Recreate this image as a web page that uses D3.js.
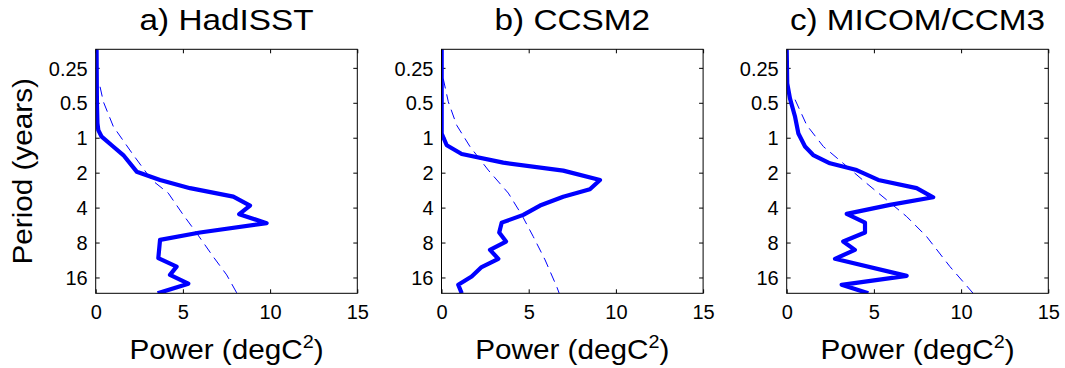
<!DOCTYPE html>
<meta charset="utf-8">
<style>
body { margin: 0; background: #fff; }
svg text { font-family: "Liberation Sans", Arial, sans-serif; fill: #000; }
.frame { fill: none; stroke: #000; stroke-width: 1; }
.spec { fill: none; stroke: #0000ff; stroke-width: 4.2; stroke-linejoin: round; }
.red { fill: none; stroke: #0000ff; stroke-width: 1; stroke-dasharray: 10,6; }
</style>
<svg width="1065" height="368"></svg>
<script src="https://cdn.jsdelivr.net/npm/d3@7"></script>
<script>

var titles = ["a) HadISST", "b) CCSM2", "c) MICOM/CCM3"];
var periodTicks = [0.25, 0.5, 1, 2, 4, 8, 16];
var powerTicks = [0, 5, 10, 15];

// solid spectra (period in years, power in degC^2)
var hadPeriod = [0.173, 0.5, 0.75, 0.86, 0.98, 1.19, 1.41, 1.96, 2.31, 2.72, 3.22, 3.84, 4.56, 5.45, 6.56, 7.58, 10.9, 12.9, 15.2, 18.1, 21.9];
var hadPower  = [0.05, 0.07, 0.1, 0.15, 0.34, 1.0, 1.58, 2.35, 3.69, 5.41, 7.89, 8.85, 8.23, 9.8, 5.98, 3.69, 3.59, 4.64, 4.26, 5.31, 3.55];

var ccsmPeriod = [0.173, 0.92, 1.16, 1.38, 1.64, 1.92, 2.31, 2.78, 3.22, 3.84, 4.62, 5.39, 6.56, 7.84, 9.25, 11.05, 13.0, 15.7, 18.5, 21.9];
var ccsmPower  = [0.01, 0.01, 0.3, 1.16, 3.54, 6.98, 9.09, 8.51, 6.98, 5.65, 4.69, 3.45, 3.31, 3.7, 2.78, 3.26, 2.3, 1.73, 0.96, 1.16];

var micomPeriod = [0.173, 0.34, 0.46, 0.66, 0.92, 1.19, 1.41, 1.66, 1.9, 2.31, 2.72, 3.26, 3.79, 4.53, 5.39, 6.56, 7.84, 9.25, 11.05, 15.5, 18.5, 21.9];
var micomPower  = [0, 0.03, 0.19, 0.48, 0.67, 1.05, 1.52, 2.48, 4.01, 5.25, 7.45, 8.4, 5.92, 3.44, 4.49, 4.49, 3.24, 3.91, 2.77, 6.88, 3.15, 4.68];

// dashed red-noise spectra
var hadRedPeriod = [0.364, 0.49, 0.8, 1.41, 2.31, 3.0, 4.62, 6.64, 10.6, 15.2, 21.9];
var hadRedPower  = [0.25, 0.44, 1.01, 2.16, 3.21, 4.16, 5.02, 5.79, 6.74, 7.51, 8.1];

var ccsmRedPeriod = [0.31, 0.49, 0.78, 1.19, 1.9, 3.0, 4.62, 7.1, 11.3, 19.1, 21.9];
var ccsmRedPower  = [0.1, 0.39, 0.87, 1.63, 2.68, 3.83, 4.6, 5.26, 5.94, 6.6, 6.75];

var micomRedPeriod = [0.47, 0.78, 1.19, 1.66, 2.47, 3.43, 4.78, 7.1, 12.9, 21.9];
var micomRedPower  = [0.48, 1.15, 2.1, 3.24, 4.58, 5.73, 6.88, 8.02, 9.36, 10.69];

var panels = [
  {period: hadPeriod, power: hadPower, redPeriod: hadRedPeriod, redPower: hadRedPower},
  {period: ccsmPeriod, power: ccsmPower, redPeriod: ccsmRedPeriod, redPower: ccsmRedPower},
  {period: micomPeriod, power: micomPower, redPeriod: micomRedPeriod, redPower: micomRedPower}
];

var svg = d3.select("svg");
var lefts = [95.7, 441.5, 786.7],
    plotTop = 49.3,
    w = 261.6,
    h = 244;

var x = d3.scaleLinear().domain([0, 15]).range([0, w]);
var y = d3.scaleLog().base(2).domain([0.173, 21.9]).range([0, h]);

var line = d3.line()
    .x(function(d) { return x(d[1]); })
    .y(function(d) { return y(d[0]); });

svg.append("defs").append("clipPath")
    .attr("id", "clip")
  .append("rect")
    .attr("width", w)
    .attr("height", h);

panels.forEach(function(p, i) {
  var g = svg.append("g").attr("transform", "translate(" + lefts[i] + "," + plotTop + ")");

  // inward ticks on all four sides
  var ax = g.append("g").attr("transform", "translate(0," + h + ")")
      .call(d3.axisBottom(x).tickValues(powerTicks).tickSize(-4).tickSizeOuter(0).tickPadding(12));
  g.append("g").call(d3.axisTop(x).tickValues(powerTicks).tickSize(-4).tickSizeOuter(0).tickFormat(""));
  var ay = g.append("g")
      .call(d3.axisLeft(y).tickValues(periodTicks).tickSize(-4).tickSizeOuter(0).tickPadding(8)
        .tickFormat(function(d) { return String(d); }));
  g.append("g").attr("transform", "translate(" + w + ",0)")
      .call(d3.axisRight(y).tickValues(periodTicks).tickSize(-4).tickSizeOuter(0).tickFormat(""));
  g.selectAll(".domain").remove();
  g.selectAll(".tick line").attr("stroke", "#000");
  g.selectAll(".tick text")
      .style("font-size", "20px")
      .attr("fill", "#000");
  ay.selectAll(".tick text").attr("dy", "0.36em");
  ax.selectAll(".tick text").attr("dy", "0.71em");

  var cg = g.append("g").attr("clip-path", "url(#clip)");
  cg.append("path")
      .datum(d3.zip(p.redPeriod, p.redPower))
      .attr("class", "red")
      .attr("d", line);
  cg.append("path")
      .datum(d3.zip(p.period, p.power))
      .attr("class", "spec")
      .attr("d", line);

  g.append("rect")
      .attr("class", "frame")
      .attr("width", w)
      .attr("height", h);

  // title
  g.append("text")
      .attr("transform", "translate(" + (w / 2) + "," + (30 - plotTop) + ") scale(1.11,1)")
      .attr("text-anchor", "middle")
      .style("font-size", "30px")
      .text(titles[i]);

  // x label
  var xl = g.append("text")
      .attr("transform", "translate(" + (w / 2) + "," + (359 - plotTop) + ") scale(1.1,1)")
      .attr("text-anchor", "middle")
      .style("font-size", "27px");
  xl.append("tspan").text("Power (degC");
  xl.append("tspan").attr("dy", -11).style("font-size", "18px").text("2");
  xl.append("tspan").attr("dy", 11).text(")");
});

svg.append("text")
    .attr("transform", "translate(32," + (plotTop + h / 2) + ") rotate(-90) scale(1.1,1)")
    .attr("text-anchor", "middle")
    .style("font-size", "27px")
    .text("Period (years)");

</script>
